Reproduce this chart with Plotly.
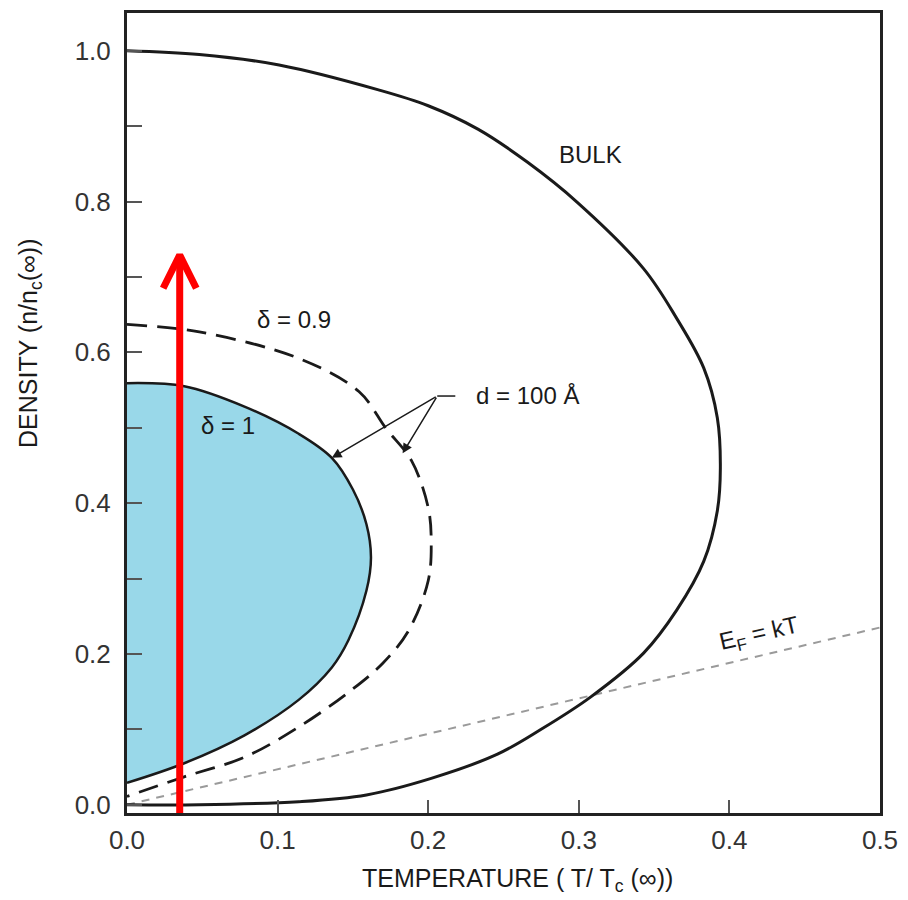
import plotly.graph_objects as go

# ---- data (T / Tc(inf), n / nc(inf)) ----
bulk_T = [0.0, 0.048, 0.101, 0.167, 0.200, 0.233, 0.266, 0.299, 0.343, 0.365, 0.383, 0.392, 0.394,
          0.392, 0.383, 0.365, 0.343, 0.308, 0.275, 0.246, 0.202, 0.159, 0.114, 0.048, 0.0]
bulk_n = [1.0, 0.995, 0.981, 0.948, 0.927, 0.896, 0.852, 0.799, 0.711, 0.645, 0.579, 0.513, 0.447,
          0.390, 0.323, 0.258, 0.201, 0.143, 0.100, 0.067, 0.035, 0.013, 0.004, 0.0, 0.0]

d1_T = [0.0, 0.038, 0.078, 0.114, 0.136, 0.150, 0.159, 0.162, 0.159, 0.147, 0.136, 0.114, 0.078, 0.038, 0.0]
d1_n = [0.559, 0.555, 0.528, 0.492, 0.460, 0.418, 0.372, 0.328, 0.284, 0.218, 0.182, 0.139, 0.092, 0.055, 0.029]

d09_T = [0.0, 0.048, 0.114, 0.154, 0.172, 0.189, 0.200, 0.202, 0.200, 0.187, 0.170, 0.149, 0.114, 0.078, 0.038, 0.0]
d09_n = [0.637, 0.627, 0.592, 0.548, 0.499, 0.456, 0.394, 0.350, 0.297, 0.231, 0.188, 0.152, 0.103, 0.063, 0.037, 0.011]

ef_T = [0.0, 0.5]
ef_n = [0.0, 0.235]

x_ticks = [0.0, 0.1, 0.2, 0.3, 0.4, 0.5]
x_tick_text = ["0.0", "0.1", "0.2", "0.3", "0.4", "0.5"]
y_ticks = [0.0, 0.1, 0.2, 0.3, 0.4, 0.5, 0.6, 0.7, 0.8, 0.9, 1.0]
y_tick_text = ["0.0", "", "0.2", "", "0.4", "", "0.6", "", "0.8", "", "1.0"]

# red marker arrow
arrow_T = [0.035, 0.035]
arrow_n = [-0.012, 0.727]
chevron_T = [0.024, 0.035, 0.046]
chevron_n = [0.685, 0.729, 0.685]

# labels
labels = [
    ("BULK", 0.308, 0.862, 0),
    ("δ = 0.9", 0.111, 0.643, 0),
    ("δ = 1", 0.067, 0.503, 0),
    ("d = 100 Å", 0.266, 0.543, 0),
    ("E<sub>F</sub> = kT", 0.42, 0.226, -13),
]
# pointer arrows for d = 100 Å: (tail T, tail n, head T, head n)
pointers = [(0.206, 0.542, 0.136, 0.460), (0.206, 0.542, 0.183, 0.466)]
pointer_bar_T = [0.206, 0.218]
pointer_bar_n = [0.542, 0.542]

FONT = "Liberation Sans, Arial, sans-serif"
INK = "#1a1a1a"
SM = 1.0

fig = go.Figure()

fig.add_trace(go.Scatter(x=d1_T, y=d1_n, mode="lines", fill="toself", fillcolor="#99D8E9",
                         line=dict(color=INK, width=2.5, shape="spline", smoothing=SM),
                         hoverinfo="skip", showlegend=False))
fig.add_trace(go.Scatter(x=d09_T, y=d09_n, mode="lines",
                         line=dict(color=INK, width=2.8, dash="20px,10px", shape="spline", smoothing=SM),
                         hoverinfo="skip", showlegend=False))
fig.add_trace(go.Scatter(x=ef_T, y=ef_n, mode="lines",
                         line=dict(color="#9a9a9a", width=2, dash="8px,7px"),
                         hoverinfo="skip", showlegend=False))
fig.add_trace(go.Scatter(x=bulk_T, y=bulk_n, mode="lines",
                         line=dict(color=INK, width=3, shape="spline", smoothing=SM),
                         hoverinfo="skip", showlegend=False))
fig.add_trace(go.Scatter(x=pointer_bar_T, y=pointer_bar_n, mode="lines",
                         line=dict(color=INK, width=1.5), hoverinfo="skip", showlegend=False))
fig.add_trace(go.Scatter(x=arrow_T, y=arrow_n, mode="lines", cliponaxis=False,
                         line=dict(color="#FF0000", width=7), hoverinfo="skip", showlegend=False))
fig.add_trace(go.Scatter(x=chevron_T, y=chevron_n, mode="lines",
                         line=dict(color="#FF0000", width=7), hoverinfo="skip", showlegend=False))

for text, tx, ty, ang in labels:
    fig.add_annotation(x=tx, y=ty, text=text, showarrow=False, textangle=ang,
                       font=dict(family=FONT, size=24, color=INK))

for t0, n0, t1, n1 in pointers:
    fig.add_annotation(x=t1, y=n1, ax=t0, ay=n0, xref="x", yref="y", axref="x", ayref="y",
                       text="", showarrow=True, arrowhead=2, arrowsize=1.3, arrowwidth=1.5,
                       arrowcolor=INK)

fig.add_annotation(x=-0.128, y=0.587, xref="paper", yref="paper", xanchor="center", yanchor="middle",
                   text="DENSITY (n/n<sub>c</sub>(∞))",
                   showarrow=False, textangle=-90, font=dict(family=FONT, size=25, color=INK))
fig.add_annotation(x=0.519, y=-0.084, xref="paper", yref="paper", xanchor="center", yanchor="middle",
                   text="TEMPERATURE ( T/ T<sub>c</sub> (∞))",
                   showarrow=False, font=dict(family=FONT, size=25, color=INK))

axis_common = dict(showline=True, linecolor="#222", linewidth=3, mirror=True,
                   ticks="inside", tickcolor="#555", tickwidth=2, showgrid=False, zeroline=False,
                   tickfont=dict(family=FONT, size=26, color="#333"))

fig.update_xaxes(range=[0, 0.5], tickvals=x_ticks, ticktext=x_tick_text, ticklen=13,
                 ticklabelstandoff=2, **axis_common)
fig.update_yaxes(range=[-0.011, 1.05], tickvals=y_ticks, ticktext=y_tick_text, ticklen=15,
                 ticklabelstandoff=8, **axis_common)

fig.update_layout(width=908, height=900, margin=dict(l=127, r=24, t=10, b=87),
                  plot_bgcolor="white", paper_bgcolor="white", showlegend=False)

fig.write_html("out.html")
